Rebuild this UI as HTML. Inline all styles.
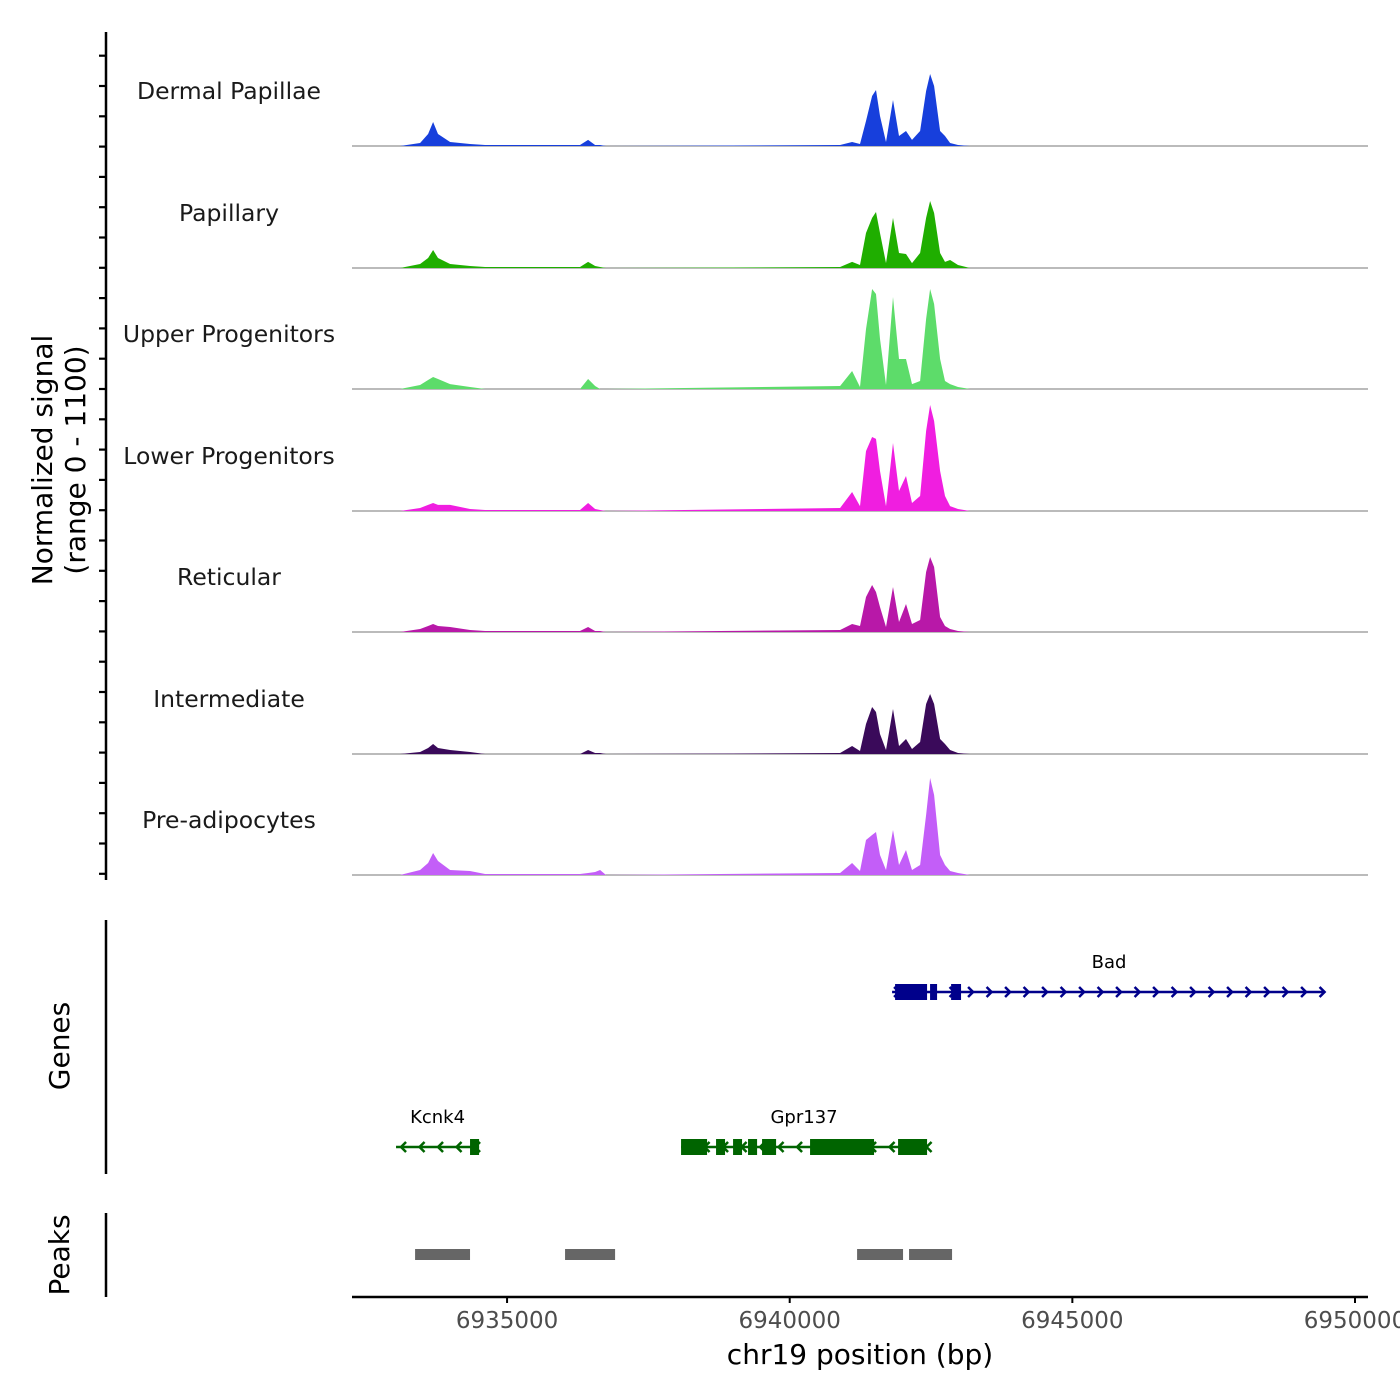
<!DOCTYPE html>
<html><head><meta charset="utf-8"><style>
html,body{margin:0;padding:0;background:#fff;}
svg{display:block;font-family:"DejaVu Sans","Liberation Sans",sans-serif;}
</style></head><body>
<svg id="chart" width="1400" height="1400" viewBox="0 0 1400 1400" xmlns="http://www.w3.org/2000/svg">
<g id="left"></g>
<g id="tracks"></g>
<g id="genes"></g>
<g id="peaks"></g>
<g id="xaxis"></g>
</svg>
<script>
const positions=[6933107,6933461,6933603,6933691,6933779,6933992,6934345,6934611,6936291,6936433,6936557,6936645,6936751,6940891,6941103,6941244,6941350,6941457,6941527,6941598,6941704,6941828,6941934,6942058,6942164,6942306,6942412,6942483,6942554,6942660,6942748,6942837,6942978,6943190];
const trackNames=["Dermal Papillae","Papillary","Upper Progenitors","Lower Progenitors","Reticular","Intermediate","Pre-adipocytes"];
const trackColors=["#173fdc","#1fae00","#5ddc6a","#f01ee0","#b818a8","#3a0a5a","#c35ef8"];
const dermal=[0,27,109,218,109,36,18,9,9,55,9,9,0,9,36,18,227,455,509,273,36,418,91,136,55,136,500,655,545,136,91,27,9,0];
const papillary=[0,36,91,164,91,36,18,9,9,55,18,9,0,9,55,27,318,455,509,318,45,455,136,127,45,136,455,609,500,136,55,73,27,0];
const upper=[0,36,82,109,91,45,18,0,0,91,27,0,0,27,164,18,545,909,864,455,36,836,273,273,45,73,636,909,773,273,73,45,18,0];
const lower=[0,27,55,73,55,55,18,9,9,73,18,9,0,27,173,45,545,673,655,364,45,618,182,318,73,136,727,964,818,364,136,45,18,0];
const reticular=[0,27,55,73,55,45,18,9,9,45,9,9,0,18,73,55,318,427,364,227,45,409,91,255,73,109,545,682,591,136,55,27,9,0];
const intermediate=[0,18,55,91,55,36,18,0,0,36,9,9,0,9,73,27,273,427,382,182,36,409,73,136,45,109,455,545,455,136,91,36,9,0];
const preadip=[0,45,109,200,127,45,36,9,9,18,27,45,0,18,109,36,318,364,391,182,45,409,91,227,45,91,545,882,727,182,91,36,18,0];
const series=[dermal,papillary,upper,lower,reticular,intermediate,preadip];
const xTicks=[6935000,6940000,6945000,6950000];
const genes=[{name:"Bad",start:6941811,end:6949453,strand:"+",color:"#00008b",row:0,exons:[[6941864,6942430],[6942483,6942607],[6942855,6943031]]},
{name:"Kcnk4",start:6933036,end:6934505,strand:"-",color:"#006400",row:1,exons:[[6934345,6934505]]},
{name:"Gpr137",start:6938078,end:6942430,strand:"-",color:"#006400",row:1,exons:[[6938078,6938538],[6938697,6938856],[6938998,6939157],[6939263,6939423],[6939511,6939759],[6940360,6941492],[6941917,6942430]]}];
const peakStarts=[6933373,6936026,6941192,6942111];
const peakEnds=[6934345,6936911,6942005,6942872];

const NS="http://www.w3.org/2000/svg";
function mk(tag,attrs,parent,name){const e=document.createElementNS(NS,tag);for(const k in attrs)e.setAttribute(k,attrs[k]);


parent.appendChild(e);return e;}
const X0=352,X1=1368,D0=6932257,D1=6950230;
function xs(bp){return X0+(bp-D0)/(D1-D0)*(X1-X0);}
const TH=121;
function ys(v,base){return base-v/1100*TH;}
const baselines=[146,268,389,511,632,754,875];
const tg=document.getElementById('tracks');
series.forEach((vals,i)=>{
  const b=baselines[i];
  mk('line',{x1:X0,x2:X1,y1:b,y2:b,stroke:"#777",'stroke-width':1},tg,'track-baseline');
  let d=`M${xs(positions[0])},${b}`;
  positions.forEach((p,j)=>{d+=` L${xs(p).toFixed(1)},${ys(vals[j],b).toFixed(1)}`;});
  d+=` L${xs(positions[positions.length-1])},${b} Z`;
  mk('path',{d:d,fill:trackColors[i]},tg,'signal-area-'+trackNames[i].toLowerCase().replace(/[^a-z]+/g,'-'));
  const t=mk('text',{x:229,y:b-47,'text-anchor':'middle','font-size':23.5,fill:'#1a1a1a'},tg,'track-label');
  t.textContent=trackNames[i];
});
const lg=document.getElementById('left');
mk('line',{x1:106,x2:106,y1:32,y2:880,stroke:'#000','stroke-width':2.5},lg,'y-axis-line');
for(let y=55.7;y<=880;y+=30.3){mk('line',{x1:99,x2:106,y1:y,y2:y,stroke:'#000','stroke-width':2.2},lg,'y-axis-tick');}
let t=mk('text',{transform:'translate(52,460) rotate(-90)','text-anchor':'middle','font-size':28,fill:'#000'},lg,'y-axis-title');t.textContent='Normalized signal';
t=mk('text',{transform:'translate(85,460) rotate(-90)','text-anchor':'middle','font-size':28,fill:'#000'},lg,'y-axis-subtitle');t.textContent='(range 0 - 1100)';
mk('line',{x1:106,x2:106,y1:920,y2:1174,stroke:'#000','stroke-width':2.5},lg,'genes-axis-line');
t=mk('text',{transform:'translate(69,1046) rotate(-90)','text-anchor':'middle','font-size':28,fill:'#000'},lg,'genes-title');t.textContent='Genes';
mk('line',{x1:106,x2:106,y1:1213,y2:1297,stroke:'#000','stroke-width':2.5},lg,'peaks-axis-line');
t=mk('text',{transform:'translate(69,1255) rotate(-90)','text-anchor':'middle','font-size':28,fill:'#000'},lg,'peaks-title');t.textContent='Peaks';

const gg=document.getElementById('genes');
const rowY=[992,1147];
genes.forEach(g=>{
  const y=rowY[g.row];
  mk('line',{x1:xs(g.start),x2:xs(g.end),y1:y,y2:y,stroke:g.color,'stroke-width':2.5},gg,'gene-line-'+g.name);
  const a=xs(g.start),bnd=xs(g.end);
  for(let x=a+6;x<=bnd+1;x+=18.5){
    const p=g.strand==='+'?`M${x-4},${y-5} L${x+1},${y} L${x-4},${y+5}`:`M${x+4},${y-5} L${x-1},${y} L${x+4},${y+5}`;
    mk('path',{d:p,stroke:g.color,'stroke-width':2.5,fill:'none'},gg,'strand-arrow');
  }
  g.exons.forEach(e=>{mk('rect',{x:xs(e[0]),y:y-8,width:xs(e[1])-xs(e[0]),height:16,fill:g.color},gg,'exon-'+g.name);});
  const lx=g.name==='Bad'?1109:(xs(g.start)+xs(g.end))/2;
  const tt=mk('text',{x:lx,y:y-24,'text-anchor':'middle','font-size':18,fill:'#000'},gg,'gene-label-'+g.name);tt.textContent=g.name;
});
const pg=document.getElementById('peaks');
peakStarts.forEach((s,i)=>{mk('rect',{x:xs(s),y:1249,width:xs(peakEnds[i])-xs(s),height:11,fill:'#666'},pg,'peak-region');});
const xg=document.getElementById('xaxis');
mk('line',{x1:X0,x2:X1,y1:1297,y2:1297,stroke:'#000','stroke-width':2.5},xg,'x-axis-line');
xTicks.forEach(v=>{const x=xs(v);mk('line',{x1:x,x2:x,y1:1297,y2:1303,stroke:'#000','stroke-width':2},xg,'x-axis-tick');
  const tl=mk('text',{x:x,y:1328,'text-anchor':'middle','font-size':23,fill:'#4d4d4d'},xg,'x-tick-label');tl.textContent=v;});
t=mk('text',{x:860,y:1364,'text-anchor':'middle','font-size':28,fill:'#000'},xg,'x-axis-title');t.textContent='chr19 position (bp)';
</script>
</body></html>
